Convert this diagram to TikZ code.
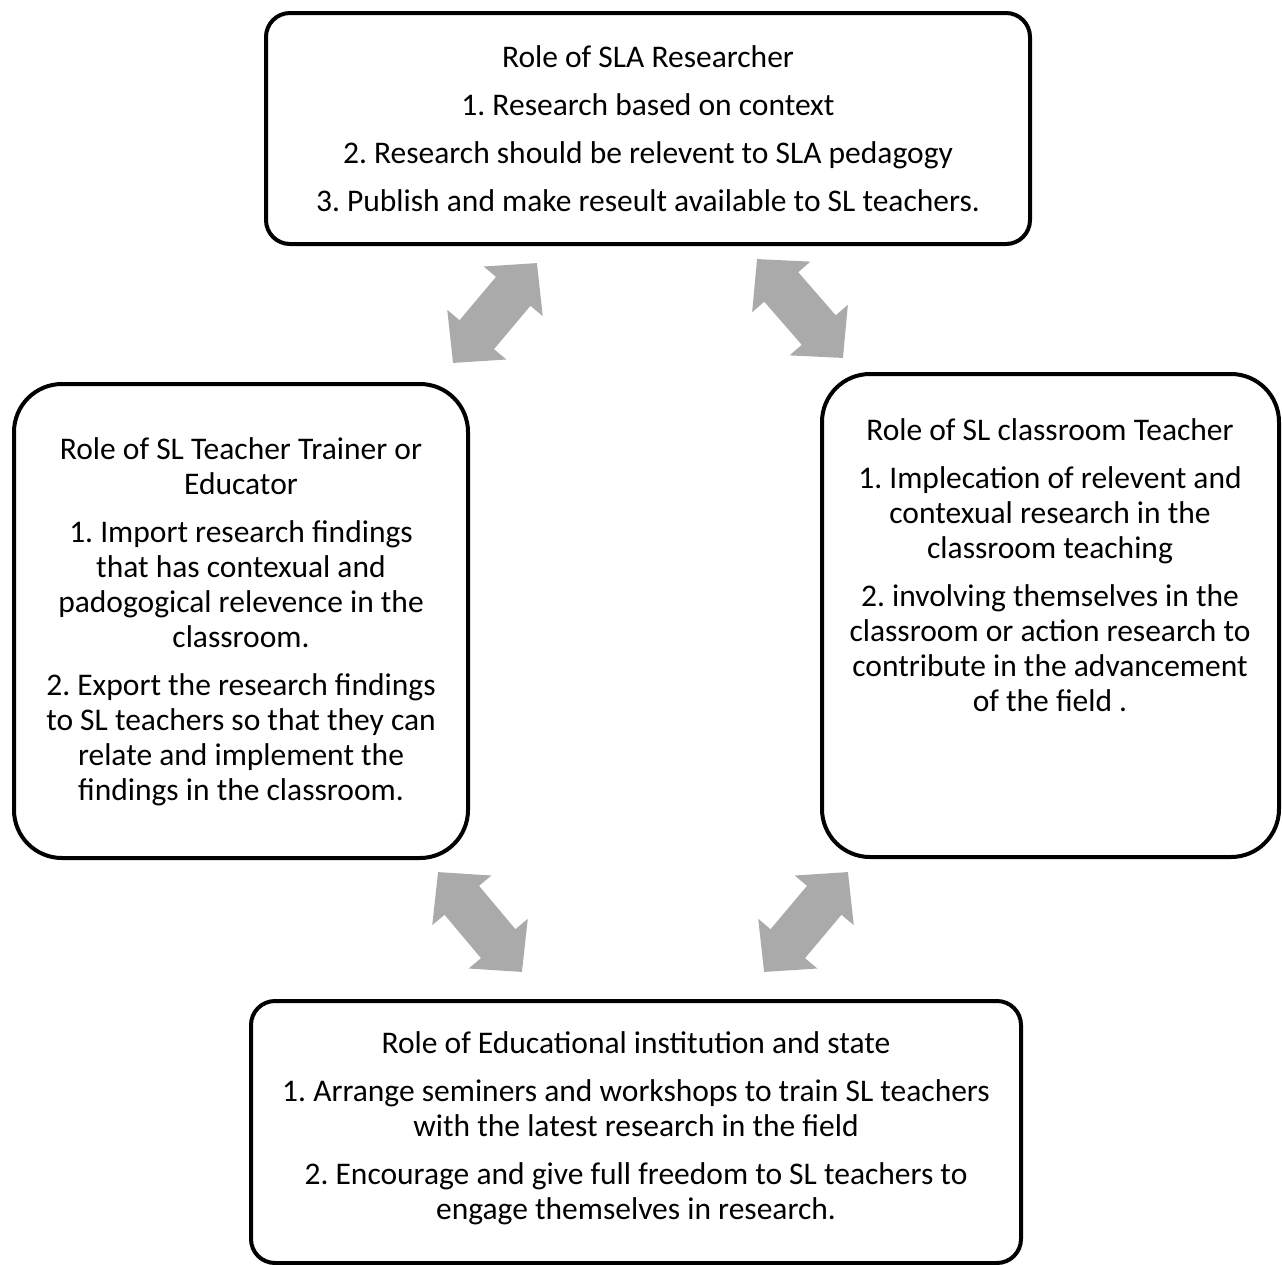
\documentclass[tikz,border=0pt]{standalone}
\usepackage{fontspec}
\setmainfont{Carlito}
\usetikzlibrary{arrows.meta}
\definecolor{arrowgray}{RGB}{170,170,170}
\frenchspacing

\begin{document}
\begin{tikzpicture}[x=0.5pt,y=-0.5pt]
        \tikzstyle{rolebox}=[
            rectangle,
            draw=black,
            line width=2pt,
            inner sep=0pt
        ]
        \tikzstyle{roletext}=[
            anchor=north,
            align=center,
            inner sep=0pt,
            font=\fontsize{15.75pt}{17.5pt}\selectfont
        ]
        \tikzstyle{linkarrow}=[
            draw=arrowgray,
            line width=22.5pt,
            >={Triangle[width=37.5pt,length=18.5pt]},
            <->
        ]

        \useasboundingbox (0,0) rectangle (1282,1265);

        % the four boxes
        \node[rolebox, rounded corners=12pt, minimum width=382pt, minimum height=115.5pt] (researcher) at (648,128.5){};
        \node[rolebox, rounded corners=24pt, minimum width=227pt, minimum height=237pt] (trainer) at (241,621){};
        \node[rolebox, rounded corners=24pt, minimum width=228.5pt, minimum height=241.5pt] (teacher) at (1050.5,615.5){};
        \node[rolebox, rounded corners=12pt, minimum width=385pt, minimum height=131pt] (institution) at (636,1132){};

        \node[roletext] (researchertext) at (648,45){Role of SLA Researcher\\[6.5pt]
            1. Research based on context\\[6.5pt]
            2. Research should be relevent to SLA pedagogy\\[6.5pt]
            3. Publish and make reseult available to SL teachers.};
        \node[roletext] (trainertext) at (241,437){Role of SL Teacher Trainer or\\
            Educator\\[6.5pt]
            1. Import research findings\\
            that has contexual and\\
            padogogical relevence in the\\
            classroom.\\[6.5pt]
            2. Export the research findings\\
            to SL teachers so that they can\\
            relate and implement the\\
            findings in the classroom.};
        \node[roletext] (teachertext) at (1050,418){Role of SL classroom Teacher\\[6.5pt]
            1. Implecation of relevent and\\
            contexual research in the\\
            classroom teaching\\[6.5pt]
            2. involving themselves in the\\
            classroom or action research to\\
            contribute in the advancement\\
            of the field .};
        \node[roletext] (institutiontext) at (636,1031){Role of Educational institution and state\\[6.5pt]
            1. Arrange seminers and workshops to train SL teachers\\
            with the latest research in the field\\[6.5pt]
            2. Encourage and give full freedom to SL teachers to\\
            engage themselves in research.};

        % arrow ends
        \coordinate (trainer-in) at (453,363);
        \coordinate (researcher-out) at (537,263);
        \coordinate (researcher-in) at (757,259);
        \coordinate (teacher-in) at (843,358);
        \coordinate (trainer-out) at (438,872);
        \coordinate (institution-in) at (522,972);
        \coordinate (teacher-out) at (848,872);
        \coordinate (institution-out) at (764,972);

        \draw[linkarrow] (trainer-in) -- (researcher-out);
        \draw[linkarrow] (researcher-in) -- (teacher-in);
        \draw[linkarrow] (trainer-out) -- (institution-in);
        \draw[linkarrow] (teacher-out) -- (institution-out);

    \end{tikzpicture}
\end{document}
